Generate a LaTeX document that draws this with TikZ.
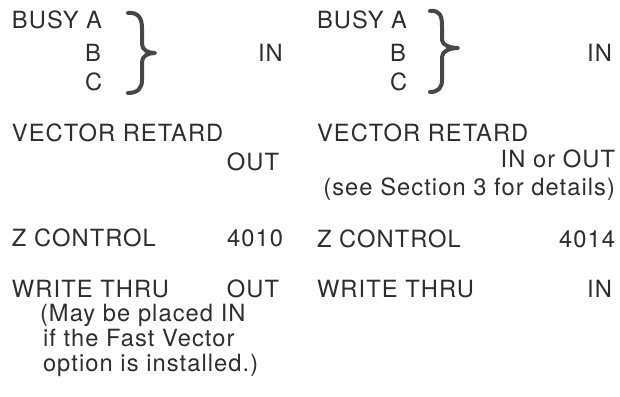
\documentclass[tikz,border=0pt]{standalone}
\usepackage{fontspec}
\setmainfont{TeX Gyre Heros}[LetterSpace=4.5]
\begin{document}
\begin{tikzpicture}[x=1pt,y=-1pt,
  lbl/.style={inner sep=0pt,outer sep=0pt,text=black!82,font=\fontsize{23.7}{28}\selectfont},
  lw/.style={lbl,anchor=base west},
  le/.style={lbl,anchor=base east},
  bracestroke/.style={draw=black!72,line width=4pt,line cap=round,line join=round}]
\useasboundingbox (0,0) rectangle (620,396);
% left column
\node[lw] (la) at (12,29) {BUSY A};
\node[lw] (lb) at (85,61) {B};
\node[lw] (lc) at (85,90) {C};
\node[lw] (lin) at (258,61) {IN};
\draw[bracestroke] (128,13) .. controls (138,12) and (142,18) .. (142,28) -- (142,44)
  .. controls (142,50) and (148,53) .. (155,53) .. controls (148,53) and (142,56) .. (142,62)
  -- (142,80) .. controls (142,88) and (138,93) .. (128,93);
\node[lw] (lvr) at (12,141) {VECTOR RETARD};
\node[le] (lout) at (279,170) {OUT};
\node[lw] (lz) at (12,246) {Z CONTROL};
\node[le] (lzv) at (283,246) {4010};
\node[lw] (lw) at (12,297) {WRITE THRU};
\node[le] (lwv) at (279,297) {OUT};
\node[lw] (ln1) at (40,321) {(May be placed IN};
\node[lw] (ln2) at (43,346) {if the Fast Vector};
\node[lw] (ln3) at (43,371) {option is installed.)};
% right column
\node[lw] (ra) at (317,29) {BUSY A};
\node[lw] (rb) at (390,61) {B};
\node[lw] (rc) at (390,90) {C};
\node[le] (rin) at (612,61) {IN};
\draw[bracestroke] (430,11) .. controls (440,10) and (442,16) .. (442,26) -- (442,40)
  .. controls (442,45) and (450,48) .. (458,48) .. controls (450,48) and (442,51) .. (442,57)
  -- (442,80) .. controls (442,88) and (438,92) .. (430,92);
\node[lw] (rvr) at (317,141) {VECTOR RETARD};
\node[le] (rio) at (615,167) {IN or OUT};
\node[le] (rsee) at (615,195) {(see Section 3 for details)};
\node[lw] (rz) at (317,247) {Z CONTROL};
\node[le] (rzv) at (615,247) {4014};
\node[lw] (rw) at (317,297) {WRITE THRU};
\node[le] (rwv) at (612,297) {IN};
\end{tikzpicture}
\end{document}
